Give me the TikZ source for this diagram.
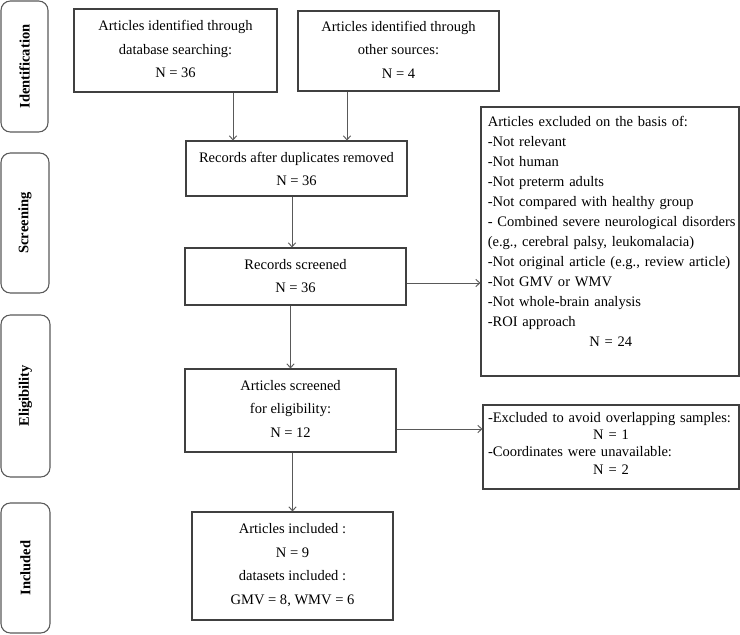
\documentclass[tikz,border=0pt]{standalone}
\usepackage{fontspec}
\setmainfont{Liberation Serif}
\usetikzlibrary{arrows.meta,fit}
\hyphenation{disorders neurological leukomalacia overlapping unavailable}
\begin{document}
\begin{tikzpicture}[x=0.75pt,y=-0.75pt,
  lc/.style={draw=black!75, line width=0.8pt},
  box/.style={lc, rectangle, inner sep=0pt},
  btext/.style={inner sep=0pt, align=center, font=\fontsize{10.9}{17.6}\selectfont},
  side/.style={draw=black!65, line width=0.8pt, rounded corners=7pt, inner sep=0pt},
  sidelabel/.style={rotate=90, inner sep=0pt, font=\fontsize{10.9}{13}\selectfont\bfseries},
  plain/.style={inner sep=0pt, align=left, text width=188pt},
  arr/.style={draw=black!65, line width=0.7pt, -{Straight Barb[length=3pt,width=5.5pt]}},
]
\useasboundingbox (0,0) rectangle (740,635);

% side bars
\node[side, fit={(1,1) (48,132)}] (s1) {};
\node[sidelabel] (s1l) at (s1.center) {Identification};
\node[side, fit={(1,153) (49,293)}] (s2) {};
\node[sidelabel] (s2l) at (s2.center) {Screening};
\node[side, fit={(1,315) (50,477)}] (s3) {};
\node[sidelabel] (s3l) at (s3.center) {Eligibility};
\node[side, fit={(1,503) (50,633)}] (s4) {};
\node[sidelabel] (s4l) at (s4.center) {Included};

% boxes
\node[box, fit={(74,9) (277,92)}] (b1) {};
\node[btext] (b1t) at ([yshift=1pt]b1.center) {Articles identified through\\database searching:\\N = 36};
\node[box, fit={(298,11) (499,91)}] (b2) {};
\node[btext] (b2t) at ([yshift=1pt]b2.center) {Articles identified through\\other sources:\\N = 4};
\node[box, fit={(186,141) (407,196)}] (b3) {};
\node[btext] (b3t) at ([yshift=-0.5pt]b3.center) {Records after duplicates removed\\N = 36};
\node[box, fit={(185,248) (406,305)}] (b4) {};
\node[btext] (b4t) at ([yshift=0.4pt]b4.center) {Records screened\\N = 36};
\node[box, fit={(185,369) (396,452)}] (b5) {};
\node[btext] (b5t) at ([yshift=1.2pt]b5.center) {Articles screened\\for eligibility:\\N = 12};
\node[box, fit={(192,512) (393,620)}] (b6) {};
\node[btext] (b6t) at ([yshift=0.8pt]b6.center) {Articles included :\\N = 9\\datasets included :\\GMV = 8, WMV = 6};

\node[box, fit={(481,107) (739,376)}] (b7) {};
\node[plain, anchor=north west, font=\fontsize{10.9}{15}\selectfont] (t7) at (487.5,116.5)
 {Articles excluded on the basis of:\\
  -Not relevant\\
  -Not human\\
  -Not preterm adults\\
  -Not compared with healthy group\\
  - Combined severe neurological disorders\\
  (e.g., cerebral palsy, leukomalacia)\\
  -Not original article (e.g., review article)\\
  -Not GMV or WMV\\
  -Not whole-brain analysis\\
  -ROI approach\\
  \makebox[184.5pt]{N = 24}};

\node[box, fit={(483,405) (739,489)}] (b8) {};
\node[plain, text width=184.5pt, font=\fontsize{10.9}{13}\selectfont] (t8) at ([yshift=3pt]b8.center)
 {-Excluded to avoid overlapping samples:\\
  \makebox[184.5pt]{N = 1}\\
  -Coordinates were unavailable:\\
  \makebox[184.5pt]{N = 2}};

% connector guides
\coordinate (a1) at (233,0);
\coordinate (a2) at (347,0);
\coordinate (a3) at (292,0);
\coordinate (a4) at (0,283);
\coordinate (a5) at (0,429);

\draw[arr] (b1.south -| a1) -- (b3.north -| a1);
\draw[arr] (b2.south -| a2) -- (b3.north -| a2);
\draw[arr] (b3.south -| a3) -- (b4.north -| a3);
\draw[arr] (b4.south -| b5.north) -- (b5.north);
\draw[arr] (b5.south -| b6.north) -- (b6.north);
\draw[arr] (b4.east |- a4) -- (b7.west |- a4);
\draw[arr] (b5.east |- a5) -- (b8.west |- a5);
\end{tikzpicture}
\end{document}
